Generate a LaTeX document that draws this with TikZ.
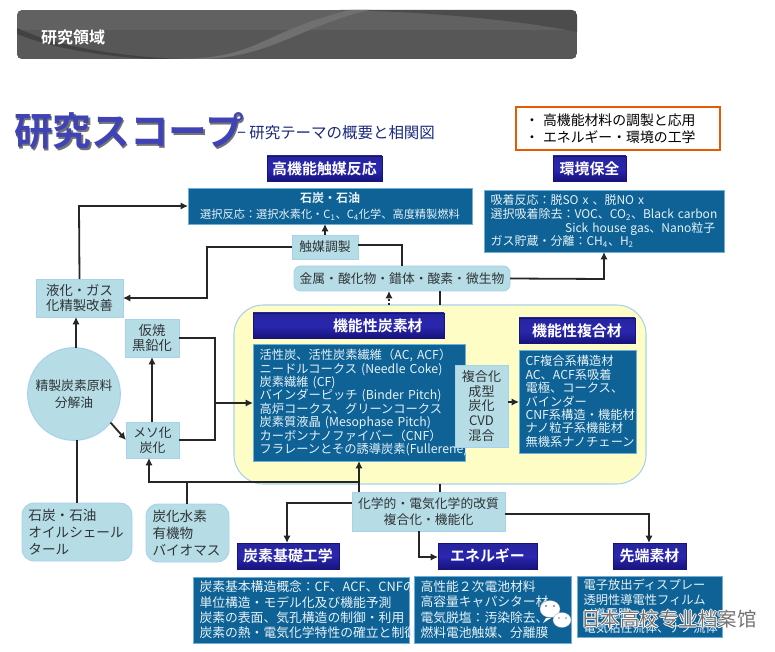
\documentclass[tikz,border=0pt]{standalone}
\usepackage{fontspec}
\setmainfont{Noto Sans CJK JP}
\newfontfamily\jpbold{Noto Sans CJK JP Bold}
\newfontfamily\wmfont{Noto Sans CJK SC}
\usetikzlibrary{arrows.meta,shadows}
\definecolor{bluefill}{HTML}{0E6295}
\definecolor{blueedge}{HTML}{6FB0DA}
\definecolor{bluetop}{HTML}{2D86B8}
\definecolor{bluetext}{HTML}{E6F2F8}
\definecolor{lightbox}{HTML}{B6DCE6}
\definecolor{lightedge}{HTML}{A6D2EE}
\definecolor{navytop}{HTML}{27249C}
\definecolor{navymid}{HTML}{2A27B0}
\definecolor{navybot}{HTML}{17137C}
\definecolor{ink}{HTML}{2E3436}
\definecolor{yellowfill}{HTML}{FFFDC6}
\definecolor{titleblue}{HTML}{3F43B5}
\definecolor{subnavy}{HTML}{1A2A80}
\newcommand{\fs}[1]{\fontsize{#1*0.75}{#1*0.9}\selectfont}
\newcommand{\fsz}[2]{\fontsize{#1}{#2}\selectfont}
% name, style, x1,y1,x2,y2, text
\newcommand{\bx}[7]{%
  \pgfmathsetmacro\ww{(#5-#3)*0.75}\pgfmathsetmacro\hh{(#6-#4)*0.75}%
  \pgfmathsetmacro\cx{(#3+#5)/2}\pgfmathsetmacro\cy{(#4+#6)/2}%
  \node[inner sep=0pt,outer sep=0pt,minimum width=\ww pt,minimum height=\hh pt,#2] (#1) at (\cx,\cy) {#7};}
% left-aligned variant, pad in px as part of text width
\newcommand{\lbx}[7]{%
  \pgfmathsetmacro\tw{(#5-#3-13)*0.75}%
  \bx{#1}{#2,align=left,text width=\tw pt}{#3}{#4}{#5}{#6}{#7}}
\tikzset{
  x=0.75pt,y=-0.75pt,
  link/.style={draw=black!85,line width=1.35pt},
  arr/.style={link,-{Latex[length=5.5pt,width=5.5pt]}},
  bluebox/.style={fill=bluefill,draw=blueedge,line width=.7pt,text=bluetext,
    font=\fsz{9.4}{11.5}},
  navybox/.style={top color=navytop,bottom color=navybot,middle color=navymid,
    draw=navybot,line width=.5pt,text=white,font=\jpbold\fsz{11.2}{13},
    drop shadow={shadow xshift=.8pt,shadow yshift=-.8pt,fill=black!45}},
  lightb/.style={fill=lightbox,draw=lightedge,line width=.7pt,text=ink,
    align=center,font=\fsz{9.6}{12.4}},
  lightr/.style={lightb,rounded corners=5pt},
  rawbox/.style={lightb,rounded corners=9pt,font=\fsz{10.2}{12.8}},
}
\begin{document}
\begin{tikzpicture}
\useasboundingbox (0,0) rectangle (775,652);
\fill[white] (0,0) rectangle (775,652);
% header
\begin{scope}
\path[clip,rounded corners=4pt] (17,10) rectangle (577,59);
\fill[black!66] (17,10) rectangle (577,59);
\fill[black!62] (17,10) rectangle (577,30);
\fill[black!70] (340,10) .. controls (440,12) and (530,22) .. (577,32) -- (577,10) -- cycle;
\fill[black!56] (180,59) .. controls (260,58) and (260,32) .. (350,10) -- (370,10) .. controls (300,26) and (270,58) .. (200,59) -- cycle;
\fill[black!74] (17,28) .. controls (50,44) and (110,56) .. (180,59) -- (17,59) -- cycle;
\fill[black!65] (17,34) .. controls (50,48) and (100,56) .. (150,59) -- (17,59) -- cycle;
\end{scope}
\node[text=white,font=\jpbold\fsz{12}{14},inner sep=0pt] (hdr) at (73,37) {研究領域};
% title
\node[text=black!55,font=\jpbold\fsz{29}{30},inner sep=0pt] (ttlshadow) at (130.5,132.5) {研究スコープ};
\node[text=titleblue,font=\jpbold\fsz{29}{30},inner sep=0pt] (ttl) at (129,131) {研究スコープ};
\node[text=subnavy,font=\fsz{11.6}{14},anchor=west,inner sep=0pt] (sub) at (237,133) {− 研究テーマの概要と相関図};
% note
\lbx{note}{draw=orange!80!red!90!black,fill=white,line width=.8pt,text=black,font=\fsz{10.4}{12.4}}{516}{107}{720}{150}{\hspace*{2pt}・\hspace{3pt}高機能材料の調製と応用\\\hspace*{2pt}・\hspace{3pt}エネルギー・環境の工学}
% yellow panel
\bx{panel}{fill=yellowfill,draw=lightedge,line width=.8pt,rounded corners=22pt}{234}{305}{646}{484}{}
% headings
\bx{hcat}{navybox}{267}{156}{382}{181}{高機能触媒反応}
\bx{henv}{navybox}{553}{156}{626}{181}{環境保全}
\bx{hfun}{navybox}{253}{313}{444}{338}{\hspace*{44pt}機能性炭素材}
\bx{hcomp}{navybox}{519}{318}{635}{343}{機能性複合材}
\bx{hbase}{navybox}{237}{543}{339}{569}{炭素基礎工学}
\bx{hener}{navybox}{438}{543}{537}{569}{エネルギー}
\bx{hadv}{navybox}{613}{543}{686}{569}{先端素材}
% blue boxes
\bx{bcat}{bluebox,align=center,font=\fsz{8.4}{12}}{188}{188}{472}{224}{{\jpbold\fsz{9}{12}石炭・石油}\\選択反応：選択水素化・C\textsubscript{1}、C\textsubscript{4}化学、高度精製燃料}
\lbx{benv}{bluebox,font=\fsz{9}{10.2}}{484}{190}{724}{252}{吸着反応：脱SO x 、脱NO x\\選択吸着除去：VOC、CO\textsubscript{2}、Black carbon\\\hspace*{56pt}Sick house gas、Nano粒子\\ガス貯蔵・分離：CH\textsubscript{4}、H\textsubscript{2}}
\lbx{bfun}{bluebox,font=\fsz{9.2}{10.05}}{253}{344}{465}{461}{活性炭、活性炭素繊維（AC, ACF）\\ニードルコークス (Needle Coke)\\炭素繊維 (CF)\\バインダーピッチ (Binder Pitch)\\高炉コークス、グリーンコークス\\炭素質液晶 (Mesophase Pitch)\\カーボンナノファイバー（CNF）\\フラレーンとその誘導炭素(Fullerene)}
\lbx{bcomp}{bluebox,font=\fsz{9.2}{10.05}}{519}{350}{636}{453}{CF複合系構造材\\AC、ACF系吸着\\電極、コークス、\\バインダー\\CNF系構造・機能材\\ナノ粒子系機能材\\無機系ナノチェーン}
\lbx{bbase}{bluebox,font=\fsz{9.6}{11.5}}{193}{577}{409}{643}{炭素基本構造概念：CF、ACF、CNFの\\単位構造・モデル化及び機能予測\\炭素の表面、気孔構造の制御・利用\\炭素の熱・電気化学特性の確立と制御}
\lbx{bener}{bluebox,font=\fsz{9.6}{11.5}}{414}{576}{571}{643}{高性能２次電池材料\\高容量キャパシター材\\電気脱塩：汚染除去、\\燃料電池触媒、分離膜}
\lbx{badv}{bluebox,font=\fsz{9.2}{10.6}}{577}{576}{722}{637}{電子放出ディスプレー\\透明性導電性フィルム\\Li導電膜\\電気粘性流体、ナノ流体}
% light boxes
\bx{mcat}{lightb,font=\fsz{9.6}{12}}{292}{235}{358}{259}{触媒調製}
\bx{metal}{lightr,font=\fsz{9.6}{12}}{294}{266}{510}{291}{金属・酸化物・錯体・酸素・微生物}
\bx{liq}{lightb,font=\fsz{10}{11.8}}{36}{279}{123}{317}{液化・ガス\\化精製改善}
\bx{cal}{lightb,font=\fsz{10}{11.8}}{125}{319}{179}{357}{仮焼\\黒鉛化}
\bx{meso}{lightb,font=\fsz{9.6}{11.2}}{126}{422}{179}{458}{メソ化\\炭化}
\bx{form}{lightb,font=\fsz{9.8}{11.2}}{455}{365}{508}{447}{複合化\\成型\\炭化\\CVD\\混合}
\bx{chem}{lightb,font=\fsz{9.6}{12.2}}{352}{492}{505}{531}{化学的・電気化学的改質\\複合化・機能化}
\lbx{coal}{rawbox,align=left}{22}{503}{132}{561}{石炭・石油\\オイルシェール\\タール}
\lbx{hydro}{rawbox,align=left}{146}{504}{229}{562}{炭化水素\\有機物\\バイオマス}
\node[circle,fill=lightbox,draw=lightedge,line width=.8pt,minimum size=69.5pt,inner sep=0pt,text=ink,align=center,font=\fsz{9.6}{12.4},outer sep=0pt] (raw) at (74,394) {精製炭素原料\\分解油};
% junctions
\coordinate (jtop) at (79,206);
\coordinate (jleft) at (207,247);
\coordinate (jleftb) at (207,298);
\coordinate (jright) at (402,245);
\coordinate (jenv) at (604,279);
\coordinate (jcc) at (215,338);
\coordinate (jcm) at (215,440);
\coordinate (jfun) at (215,403);
\coordinate (jbot) at (359,482);
\coordinate (jmeso) at (149,482);
\coordinate (jhyd) at (187,482);
\coordinate (jbase) at (287,503);
\coordinate (jener) at (419,557);
\coordinate (jadv) at (649,514);
% connectors
\draw[arr] (liq.north) -- (jtop) -- (bcat.west);
\draw[arr] (mcat.north) -- (bcat.south -| mcat.north);
\draw[arr] (mcat.west) -- (jleft) -- (jleftb) -- (liq.east |- jleftb);
\draw[link] (mcat.east |- jright) -- (jright) -- (metal.north -| jright);
\draw[arr] (metal.east) -- (jenv) -- (benv.south -| jenv);
\draw[arr,dotted] (panel.north -| 389,0) -- (metal.south -| 389,0);
\draw[link] (metal.south -| 440,0) -- (panel.north -| 440,0);
\draw[link] (panel.south -| 440,0) -- (chem.north -| 440,0);
\draw[arr] (raw.north -| 76,0) -- (liq.south -| 76,0);
\draw[link] (raw.south -| 77,0) -- (coal.north -| 77,0);
\draw[arr] (raw.-38) -- (meso.west |- 0,440);
\draw[arr] (meso.north -| 152,0) -- (cal.south -| 152,0);
\draw[link] (cal.east |- jcc) -- (jcc) -- (jcm) -- (meso.east |- jcm);
\draw[arr] (jfun) -- (bfun.west |- jfun);
\draw[arr] (chem.north -| jbot) -- (bfun.south -| jbot);
\draw[arr] (jbot) -- (jmeso) -- (meso.south -| jmeso);
\draw[link] (jhyd) -- (hydro.north -| jhyd);
\draw[arr] (chem.west |- jbase) -- (jbase) -- (hbase.north -| jbase);
\draw[arr] (chem.south -| jener) -- (jener) -- (hener.west |- jener);
\draw[arr] (chem.east |- jadv) -- (jadv) -- (hadv.north -| jadv);
\draw[arr] (form.east |- 0,402) -- (bcomp.west |- 0,402);
% watermark
\begin{scope}
\fill[white,draw=black!35,line width=.2pt] (550,609) ellipse (10 and 8.5);
\fill[white] (546,618) -- (543,623) -- (551,618) -- cycle;
\fill[white,draw=black!35,line width=.2pt] (562,620) ellipse (9 and 7.5);
\fill[black!50] (546,606) circle (1.1) (554,606) circle (1.1) (559,618) circle (.9) (566,618) circle (.9);
\end{scope}
\foreach \dx/\dy in {-1/0,1/0,0/-1,0/1}{
  \node[text=white,font=\wmfont\fsz{14.6}{16},inner sep=0pt,anchor=west] at (581+\dx,619+\dy) {日本高校专业档案馆};
}
\node[text=black!55,font=\wmfont\fsz{14.6}{16},inner sep=0pt,anchor=west] (wm) at (581,619) {日本高校专业档案馆};
\end{tikzpicture}
\end{document}
